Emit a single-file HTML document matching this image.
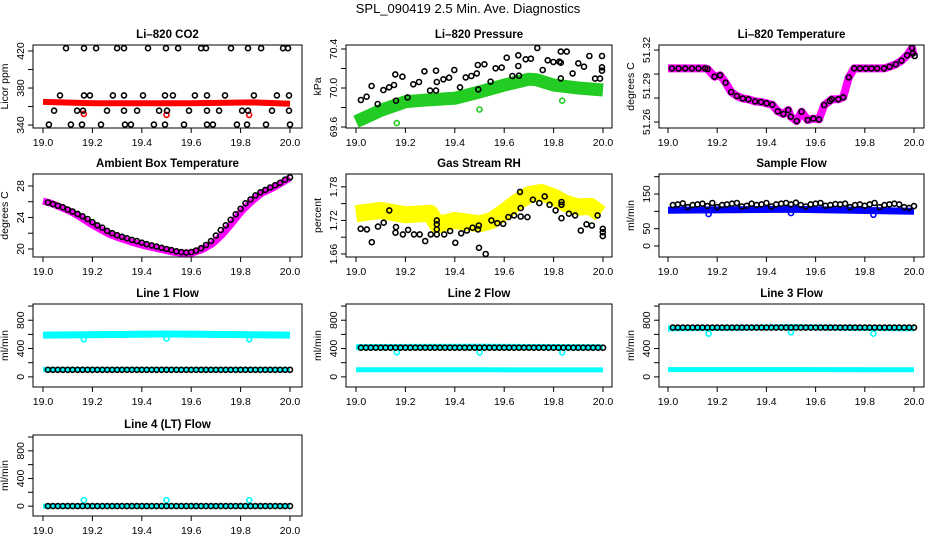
<!DOCTYPE html>
<html><head><meta charset="utf-8">
<style>
html,body{margin:0;padding:0;background:#fff;}
svg{display:block;}
text{font-family:"Liberation Sans",Arial,sans-serif;fill:#000;}
.t{font-size:11.5px;font-weight:bold;}
.tk{font-size:10.5px;}
.yl{font-size:10.5px;}
</style></head>
<body>
<svg id="fig" width="936" height="540" viewBox="0 0 936 540">
<text x="468" y="13" text-anchor="middle" font-size="13">SPL_090419  2.5 Min. Ave. Diagnostics</text>
</svg>
<script>
// ---------- data ----------
const xTicks = [19.0, 19.2, 19.4, 19.6, 19.8, 20.0];
const xTickLabels = ["19.0", "19.2", "19.4", "19.6", "19.8", "20.0"];
const sampleTimes = [19.02,19.04,19.06,19.08,19.10,19.12,19.14,19.16,19.18,19.20,19.22,19.24,19.26,19.28,19.30,19.32,19.34,19.36,19.38,19.40,19.42,19.44,19.46,19.48,19.50,19.52,19.54,19.56,19.58,19.60,19.62,19.64,19.66,19.68,19.70,19.72,19.74,19.76,19.78,19.80,19.82,19.84,19.86,19.88,19.90,19.92,19.94,19.96,19.98,20.0];
const outlierTimes = [19.165, 19.5, 19.835];

// CO2
const co2BandX = [19.0, 19.2, 19.4, 19.6, 19.85, 20.0];
const co2BandY = [365, 363.5, 363.5, 363.5, 364.5, 363];
const co2OutY = [352, 351, 351];
const co2HighX = [19.093,19.166,19.215,19.300,19.328,19.425,19.498,19.547,19.640,19.660,19.761,19.830,19.883,19.972,19.992];
const co2HighV = 423;
const co2MidX = [19.069,19.166,19.190,19.283,19.328,19.405,19.494,19.526,19.615,19.664,19.737,19.854,19.947,19.996];
const co2MidV = 372;
const co2LowX = [19.045,19.138,19.162,19.259,19.328,19.381,19.470,19.502,19.591,19.664,19.713,19.806,19.830,19.927,19.996];
const co2LowV = 355.5;
const co2BotX = [19.024,19.113,19.158,19.235,19.332,19.356,19.449,19.494,19.571,19.664,19.688,19.785,19.826,19.903,20.0];
const co2BotV = 340.5;

// Pressure
const presBandX = [19.0, 19.1, 19.2, 19.3, 19.4, 19.5, 19.6, 19.7, 19.73, 19.8, 19.9, 20.0];
const presBandY = [69.655, 69.77, 69.86, 69.88, 69.895, 69.96, 70.03, 70.09, 70.085, 70.03, 70.0, 69.98];
const presOutY = [69.64, 69.78, 69.87];
const presX = [19.020,19.043,19.063,19.088,19.111,19.134,19.154,19.159,19.162,19.188,19.209,19.232,19.255,19.277,19.300,19.324,19.327,19.324,19.354,19.377,19.398,19.421,19.444,19.467,19.489,19.493,19.495,19.520,19.545,19.565,19.590,19.610,19.633,19.657,19.657,19.660,19.687,19.708,19.734,19.756,19.776,19.799,19.823,19.829,19.829,19.829,19.853,19.877,19.900,19.923,19.945,19.968,19.988,19.996,19.996,19.996];
const presY = [69.877,69.911,70.021,69.836,69.979,70.007,70.031,70.140,69.870,70.116,69.904,70.038,70.062,70.171,69.973,69.973,70.062,70.178,70.089,70.106,70.185,70.007,70.109,70.123,70.150,70.236,69.986,70.243,70.065,70.202,70.209,70.311,70.123,70.226,70.335,70.126,70.294,70.301,70.410,70.185,70.284,70.267,70.270,70.373,70.260,70.099,70.373,70.150,70.253,70.219,70.328,70.096,70.096,70.328,70.212,70.178];

// Li-820 temperature
const tempX = [19.0,19.016,19.043,19.070,19.097,19.124,19.151,19.161,19.189,19.212,19.234,19.257,19.280,19.304,19.327,19.354,19.378,19.401,19.424,19.446,19.469,19.489,19.499,19.523,19.543,19.568,19.591,19.614,19.635,19.658,19.665,19.692,19.712,19.735,19.757,19.780,19.804,19.827,19.850,19.878,19.901,19.926,19.949,19.972,19.992,19.996,20.003];
const tempY = [51.3047,51.3047,51.3047,51.3047,51.3047,51.3047,51.3047,51.3042,51.2978,51.2989,51.2928,51.285,51.2817,51.2797,51.2789,51.2772,51.2767,51.2756,51.2744,51.2689,51.2667,51.27,51.2644,51.2608,51.2686,51.2617,51.2628,51.2622,51.2742,51.2775,51.2789,51.2789,51.2806,51.2972,51.3047,51.3047,51.3047,51.3047,51.3047,51.3047,51.3061,51.3081,51.3111,51.3156,51.3217,51.3172,51.315];

// Ambient box temperature
const ambBandX = [19.0,19.027,19.067,19.107,19.148,19.188,19.228,19.268,19.309,19.362,19.416,19.470,19.523,19.564,19.604,19.644,19.685,19.725,19.765,19.805,19.846,19.886,19.926,19.966,20.0];
const ambBandY = [26.07,25.86,25.36,24.82,24.10,23.27,22.55,21.88,21.38,20.84,20.37,20.0,19.62,19.45,19.49,19.91,20.63,21.80,23.27,24.82,26.07,27.08,27.66,28.38,29.05];
const ambY = [25.9,25.7,25.5,25.3,25.0,24.75,24.45,24.15,23.8,23.4,23.0,22.7,22.3,22.0,21.75,21.55,21.35,21.15,21.0,20.8,20.6,20.45,20.3,20.15,20.0,19.85,19.7,19.6,19.55,19.6,19.8,20.1,20.5,21.0,21.7,22.4,23.0,23.7,24.4,25.1,25.8,26.3,26.8,27.2,27.5,27.8,28.1,28.4,28.8,29.1];

// Gas stream RH
const rhBandX = [19.0,19.1,19.2,19.3,19.33,19.4,19.5,19.55,19.6,19.65,19.7,19.75,19.8,19.85,19.9,19.95,19.99];
const rhBandY = [1.732,1.738,1.73,1.733,1.712,1.72,1.714,1.72,1.735,1.752,1.766,1.77,1.762,1.75,1.744,1.745,1.732];
const rhX = [19.019,19.044,19.064,19.089,19.112,19.135,19.160,19.162,19.190,19.211,19.235,19.258,19.280,19.303,19.327,19.327,19.327,19.327,19.357,19.381,19.402,19.426,19.449,19.472,19.494,19.497,19.498,19.525,19.548,19.572,19.596,19.617,19.640,19.664,19.667,19.667,19.694,19.716,19.742,19.764,19.784,19.808,19.832,19.832,19.832,19.862,19.887,19.910,19.933,19.955,19.978,19.999,19.999,19.999];
const rhY = [1.705,1.704,1.681,1.709,1.716,1.738,1.698,1.708,1.695,1.703,1.695,1.695,1.683,1.695,1.720,1.713,1.704,1.695,1.695,1.701,1.680,1.697,1.702,1.707,1.704,1.711,1.671,1.660,1.720,1.715,1.714,1.726,1.729,1.771,1.742,1.727,1.726,1.757,1.751,1.763,1.748,1.738,1.753,1.748,1.724,1.732,1.729,1.702,1.713,1.711,1.729,1.705,1.699,1.692];

// Sample flow
const sfBandX = [19.0, 19.5, 20.0];
const sfBandY = [103, 106, 100];
const sfOutY = [92, 95, 90];
const sfY = [118,120,123,112,118,120,122,115,124,112,118,120,122,124,114,116,122,118,120,124,114,120,122,124,120,125,118,114,120,122,124,116,118,121,120,122,112,118,120,116,120,124,112,118,120,122,120,112,110,115];

// Line flows
const lineBandX = [19.0, 19.5, 20.0];
const line1Upper = [590, 605, 590];
const line1Lower = [102, 102, 100];
const line1Black = 100;
const line1Out = [530, 540, 530];
const line2Upper = [420, 425, 418];
const line2Lower = [100, 100, 98];
const line2Black = 412;
const line2Out = [345, 345, 345];
const line3Upper = [685, 700, 685];
const line3Lower = [102, 102, 100];
const line3Black = 696;
const line3Out = [610, 630, 610];
const line4Cyan = [0, 0, 0];
const line4Black = 0;
const line4Out = [86, 86, 86];

// ---------- layout ----------
const cols = [{l:33,r:302,x0:43,x1:290},{l:346,r:612,x0:356,x1:603},{l:659,r:924,x0:668,x1:914}];
const rowsTop = [45,174,304,435];
const rowsBot = [128,257,387,516];
const NS = "http://www.w3.org/2000/svg";
const svg = document.getElementById('fig');

function mk(tag, attrs, parent){
  const e = document.createElementNS(NS, tag);
  for (const k in attrs) e.setAttribute(k, attrs[k]);
  (parent||svg).appendChild(e);
  return e;
}

function panel(c, r, cfg){
  const C = cols[c], top = rowsTop[r], bot = rowsBot[r];
  const g = mk('g', {});
  
  
  const sx = v => C.x0 + (v - 19.0) / 1.0 * (C.x1 - C.x0);
  const sy = v => bot - (v - cfg.ymin) / (cfg.ymax - cfg.ymin) * (bot - top);
  const clipId = 'clip' + c + r;
  const cp = mk('clipPath', {id: clipId}, g);
  mk('rect', {x: C.l, y: top, width: C.r - C.l, height: bot - top}, cp);
  const plot = mk('g', {'clip-path': 'url(#' + clipId + ')'}, g);
  
  
  const t = mk('text', {x: (C.l + C.r) / 2, y: top - 7, 'text-anchor': 'middle', class: 't'}, g);
  t.textContent = cfg.title;
  
  
  const box = mk('rect', {x: C.l, y: top, width: C.r - C.l, height: bot - top, fill: 'none', stroke: '#000', 'stroke-width': 1}, g);
  
  
  const xa = mk('g', {}, g);
  
  
  xTicks.forEach((v, i) => {
    const x = sx(v);
    mk('line', {x1: x, x2: x, y1: bot, y2: bot + 5, stroke: '#000'}, xa);
    const tl = mk('text', {x: x, y: bot + 18, 'text-anchor': 'middle', class: 'tk'}, xa);
    tl.textContent = xTickLabels[i];
    
    
  });
  const ya = mk('g', {}, g);
  
  
  cfg.yTicks.forEach(v => {
    const y = sy(v);
    mk('line', {x1: C.l - 5, x2: C.l, y1: y, y2: y, stroke: '#000'}, ya);
  });
  cfg.yLabelVals.forEach((v, i) => {
    const y = sy(v);
    const tl = mk('text', {x: C.l - 9, y: y, 'text-anchor': 'middle', class: 'tk', transform: 'rotate(-90 ' + (C.l - 9) + ' ' + y + ')'}, ya);
    tl.textContent = cfg.yLabels[i];
    
    
  });
  const ylx = C.l - 25, yly = (top + bot) / 2;
  const yl = mk('text', {x: ylx, y: yly, 'text-anchor': 'middle', class: 'yl', transform: 'rotate(-90 ' + ylx + ' ' + yly + ')'}, g);
  yl.textContent = cfg.ylab;
  
  
  return {plot, sx, sy};
}

function band(P, xs, ys, color, w, name){
  const pts = xs.map((x, i) => P.sx(x).toFixed(1) + ',' + P.sy(ys[i]).toFixed(1)).join(' ');
  const pl = mk('polyline', {points: pts, fill: 'none', stroke: color, 'stroke-width': w, 'stroke-linejoin': 'round', 'stroke-linecap': 'butt'}, P.plot);
  
  
}
function dots(P, xs, ys, color, name){
  xs.forEach((x, i) => {
    const y = Array.isArray(ys) ? ys[i] : ys;
    const c = mk('circle', {cx: P.sx(x).toFixed(1), cy: P.sy(y).toFixed(1), r: 2.5, fill: 'none', stroke: color, 'stroke-width': 1.6}, P.plot);
    
    
  });
}

// ---------- panels ----------
let P;
P = panel(0, 0, {name:'co2', title:'Li\u2013820 CO2', ylab:'Licor ppm', ymin:336.8, ymax:426.5, yTicks:[340,360,380,400,420], yLabelVals:[340,380,420], yLabels:['340','380','420']});
band(P, co2BandX, co2BandY, '#ff0000', 6, 'co2-series-band');
dots(P, outlierTimes, co2OutY, '#ff0000', 'co2-outlier');
dots(P, co2HighX, co2HighV, '#000', 'co2-point');
dots(P, co2MidX, co2MidV, '#000', 'co2-point');
dots(P, co2LowX, co2LowV, '#000', 'co2-point');
dots(P, co2BotX, co2BotV, '#000', 'co2-point');

P = panel(1, 0, {name:'pressure', title:'Li\u2013820 Pressure', ylab:'kPa', ymin:69.59, ymax:70.441, yTicks:[69.6,69.8,70.0,70.2,70.4], yLabelVals:[69.6,70.0,70.4], yLabels:['69.6','70.0','70.4']});
band(P, presBandX, presBandY, '#22cc22', 13, 'pressure-series-band');
dots(P, outlierTimes, presOutY, '#22cc22', 'pressure-outlier');
dots(P, presX, presY, '#000', 'pressure-point');

P = panel(2, 0, {name:'li820-temperature', title:'Li\u2013820 Temperature', ylab:'degrees C', ymin:51.255, ymax:51.3242, yTicks:[51.26,51.28,51.30,51.32], yLabelVals:[51.26,51.29,51.32], yLabels:['51.26','51.29','51.32']});
band(P, tempX, tempY, '#ff00ff', 8, 'li820-temperature-series-band');
dots(P, tempX.slice(1), tempY.slice(1), '#000', 'li820-temperature-point');

P = panel(0, 1, {name:'ambient-temperature', title:'Ambient Box Temperature', ylab:'degrees C', ymin:18.98, ymax:29.52, yTicks:[20,22,24,26,28], yLabelVals:[20,24,28], yLabels:['20','24','28']});
band(P, ambBandX, ambBandY, '#ff00ff', 7, 'ambient-temperature-series-band');
dots(P, sampleTimes, ambY, '#000', 'ambient-temperature-point');

P = panel(1, 1, {name:'rh', title:'Gas Stream RH', ylab:'percent', ymin:1.6546, ymax:1.803, yTicks:[1.66,1.69,1.72,1.75,1.78], yLabelVals:[1.66,1.72,1.78], yLabels:['1.66','1.72','1.78']});
band(P, rhBandX, rhBandY, '#ffff00', 17, 'rh-series-band');
dots(P, rhX, rhY, '#000', 'rh-point');

P = panel(2, 1, {name:'sample-flow', title:'Sample Flow', ylab:'ml/min', ymin:-31.7, ymax:207.7, yTicks:[0,50,100,150,200], yLabelVals:[0,50,150], yLabels:['0','50','150']});
band(P, sfBandX, sfBandY, '#0000ff', 7, 'sample-flow-series-band');
dots(P, outlierTimes, sfOutY, '#0000ff', 'sample-flow-outlier');
dots(P, sampleTimes, sfY, '#000', 'sample-flow-point');

const flowCfg = {ylab:'ml/min', ymin:-143, ymax:1029, yTicks:[0,200,400,600,800,1000], yLabelVals:[0,400,800], yLabels:['0','400','800']};

P = panel(0, 2, Object.assign({name:'line1-flow', title:'Line 1 Flow'}, flowCfg));
band(P, lineBandX, line1Upper, '#00ffff', 7, 'line1-upper-band');
band(P, lineBandX, line1Lower, '#00ffff', 5, 'line1-lower-band');
dots(P, outlierTimes, line1Out, '#00ffff', 'line1-outlier');
dots(P, sampleTimes, line1Black, '#000', 'line1-point');

P = panel(1, 2, Object.assign({name:'line2-flow', title:'Line 2 Flow'}, flowCfg));
band(P, lineBandX, line2Upper, '#00ffff', 6, 'line2-upper-band');
band(P, lineBandX, line2Lower, '#00ffff', 5, 'line2-lower-band');
dots(P, outlierTimes, line2Out, '#00ffff', 'line2-outlier');
dots(P, sampleTimes, line2Black, '#000', 'line2-point');

P = panel(2, 2, Object.assign({name:'line3-flow', title:'Line 3 Flow'}, flowCfg));
band(P, lineBandX, line3Upper, '#00ffff', 6, 'line3-upper-band');
band(P, lineBandX, line3Lower, '#00ffff', 5, 'line3-lower-band');
dots(P, outlierTimes, line3Out, '#00ffff', 'line3-outlier');
dots(P, sampleTimes, line3Black, '#000', 'line3-point');

P = panel(0, 3, Object.assign({name:'line4-flow', title:'Line 4 (LT) Flow'}, flowCfg));
band(P, lineBandX, line4Cyan, '#00ffff', 5, 'line4-band');
dots(P, outlierTimes, line4Out, '#00ffff', 'line4-outlier');
dots(P, sampleTimes, line4Black, '#000', 'line4-point');
</script>
</body></html>
